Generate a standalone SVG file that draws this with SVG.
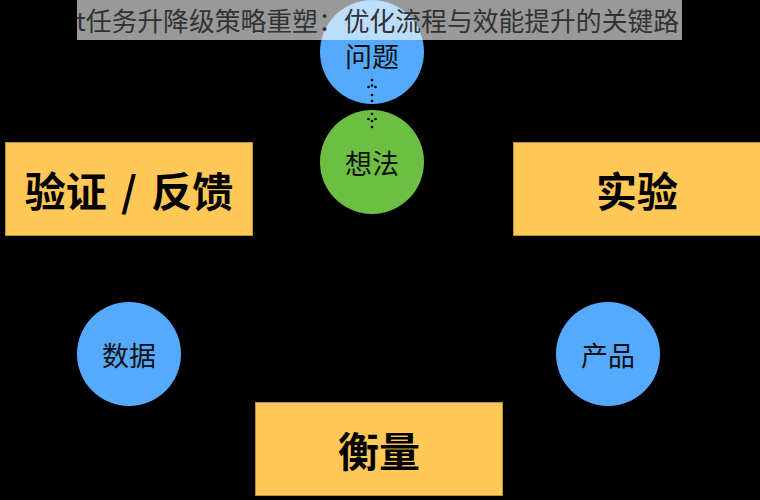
<svg xmlns="http://www.w3.org/2000/svg" width="760" height="500" viewBox="0 0 760 500">
<style>
.box{fill:#ffc857;stroke:#b8903a;stroke-width:1}
.blue{fill:#55aaff}
.green{fill:#6cbf43}
.big{font-family:"Noto Sans CJK SC","Noto Sans",sans-serif;font-weight:700;font-size:41px;fill:#000;text-anchor:middle;dominant-baseline:central}
.lbl{font-family:"Noto Sans CJK SC","Noto Sans",sans-serif;font-size:27px;fill:#111;text-anchor:middle;dominant-baseline:central}
.title{font-family:"Noto Sans CJK SC","Noto Sans",sans-serif;font-size:25.8px;fill:#333}
.dot{fill:#000}
</style>
<defs>
<clipPath id="tc"><rect x="77" y="0" width="605" height="40"/></clipPath>
</defs>
<rect width="760" height="500" fill="#000"/>
<g id="node-wenti"><circle class="blue" cx="372" cy="52" r="52"/><text class="lbl" x="372" y="55">问题</text></g>
<g id="node-xiangfa"><circle class="green" cx="372" cy="162" r="52"/><text class="lbl" x="372" y="162">想法</text></g>
<g id="node-yanzheng"><rect class="box" x="5.5" y="142.5" width="247" height="93"/><text class="big" x="129" y="189" word-spacing="5">验证 / 反馈</text></g>
<g id="node-shiyan"><rect class="box" x="513.5" y="142.5" width="247" height="93"/><text class="big" x="637" y="189">实验</text></g>
<g id="node-hengliang"><rect class="box" x="255.5" y="402.5" width="247" height="93"/><text class="big" x="379" y="449">衡量</text></g>
<g id="node-shuju"><circle class="blue" cx="129" cy="354" r="52"/><text class="lbl" x="129" y="354">数据</text></g>
<g id="node-chanpin"><circle class="blue" cx="608" cy="354" r="52"/><text class="lbl" x="608" y="354">产品</text></g>
<g id="connectors">
<circle class="dot" cx="372" cy="80" r="1.3"/>
<circle class="dot" cx="368.5" cy="87" r="1.3"/>
<circle class="dot" cx="372" cy="85.5" r="1.3"/>
<circle class="dot" cx="375.5" cy="87" r="1.3"/>
<circle class="dot" cx="372" cy="95" r="1.3"/>
<circle class="dot" cx="372" cy="101" r="1.3"/>
<circle class="dot" cx="372" cy="114" r="1.3"/>
<circle class="dot" cx="368.5" cy="119" r="1.3"/>
<circle class="dot" cx="372" cy="121" r="1.3"/>
<circle class="dot" cx="375.5" cy="119" r="1.3"/>
<circle class="dot" cx="372" cy="127" r="1.3"/>
</g>
<g id="title">
<rect x="77" y="0" width="605" height="40" fill="#fff" fill-opacity="0.6"/>
<text class="title" x="76" y="31" clip-path="url(#tc)">t任务升降级策略重塑：优化流程与效能提升的关键路</text>
</g>
</svg>
